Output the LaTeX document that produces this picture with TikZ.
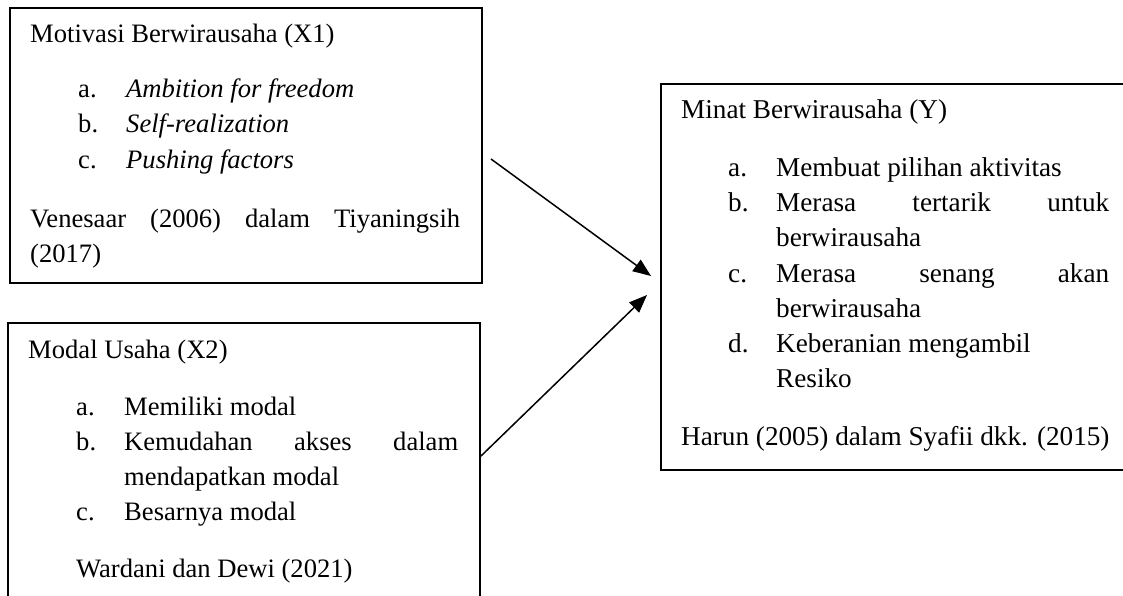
\documentclass[tikz,border=0pt]{standalone}
\usepackage{fontspec}
\setmainfont{Liberation Serif}
\usetikzlibrary{arrows.meta}
\begin{document}
\begin{tikzpicture}[x=1pt,y=-1pt,
  box/.style={draw=black, line width=2pt, rectangle, inner sep=0pt, anchor=north west},
  txt/.style={anchor=base west, inner sep=0pt, font=\fontsize{26.6}{35}\selectfont},
  txtb/.style={anchor=base west, inner sep=0pt, font=\fontsize{27.2}{35}\selectfont},
  conn/.style={line width=1.5pt, -{Triangle[length=18pt,width=14pt]}}]
\useasboundingbox (0,0) rectangle (1123,596);
\clip (0,0) rectangle (1123,596);
\fill[white] (0,0) rectangle (1123,596);
% boxes
\node[box, minimum width=472pt, minimum height=275pt] (x1) at (9,7) {};
\node[box, minimum width=472pt, minimum height=300pt] (x2) at (7,322) {};
\node[box, minimum width=480pt, minimum height=386pt] (y) at (660,83) {};
% box 1 texts
\node[txt] (t1) at (30,43) {Motivasi Berwirausaha (X1)};
\node[txt] (t1a) at (78,98) {a.};
\node[txt] (t1at) at (126,98) {\itshape Ambition for freedom};
\node[txt] (t1b) at (78,133) {b.};
\node[txt] (t1bt) at (126,133) {\itshape Self-realization};
\node[txt] (t1c) at (78,168) {c.};
\node[txt] (t1ct) at (126,168) {\itshape Pushing factors};
\node[txt] (t1r) at (30,227) {\hbox to 430pt{Venesaar\hfill(2006)\hfill dalam\hfill Tiyaningsih}};
\node[txt] (t1r2) at (30,262) {(2017)};
% box 2 texts
\node[txt] (t2) at (28,358) {Modal Usaha (X2)};
\node[txt] (t2a) at (76,415) {a.};
\node[txt] (t2at) at (124,415) {Memiliki modal};
\node[txt] (t2b) at (76,450) {b.};
\node[txt] (t2bt) at (124,450) {\hbox to 334pt{Kemudahan\hfill akses\hfill dalam}};
\node[txt] (t2bt2) at (124,485) {mendapatkan modal};
\node[txt] (t2c) at (76,520) {c.};
\node[txt] (t2ct) at (124,520) {Besarnya modal};
\node[txt] (t2r) at (76,577) {Wardani dan Dewi (2021)};
% box 3 texts
\node[txtb] (t3) at (681,119) {Minat Berwirausaha (Y)};
\node[txtb] (t3a) at (728,176) {a.};
\node[txtb] (t3at) at (776,176) {Membuat pilihan aktivitas};
\node[txtb] (t3b) at (728,211) {b.};
\node[txtb] (t3bt) at (776,211) {\hbox to 333pt{Merasa\hfill tertarik\hfill untuk}};
\node[txtb] (t3bt2) at (776,246) {berwirausaha};
\node[txtb] (t3c) at (728,282) {c.};
\node[txtb] (t3ct) at (776,282) {\hbox to 333pt{Merasa\hfill senang\hfill akan}};
\node[txtb] (t3ct2) at (776,317) {berwirausaha};
\node[txtb] (t3d) at (728,352) {d.};
\node[txtb] (t3dt) at (776,352) {Keberanian mengambil};
\node[txtb] (t3dt2) at (776,387) {Resiko};
\node[txtb] (t3r) at (681,445) {Harun (2005) dalam Syafii dkk. (2015)};
% connectors
\coordinate (a1s) at (491,159);
\coordinate (a1e) at (651,276);
\coordinate (a2s) at (481,456);
\coordinate (a2e) at (647,295);
\draw[conn] (a1s) -- (a1e);
\draw[conn] (a2s) -- (a2e);
\end{tikzpicture}
\end{document}
